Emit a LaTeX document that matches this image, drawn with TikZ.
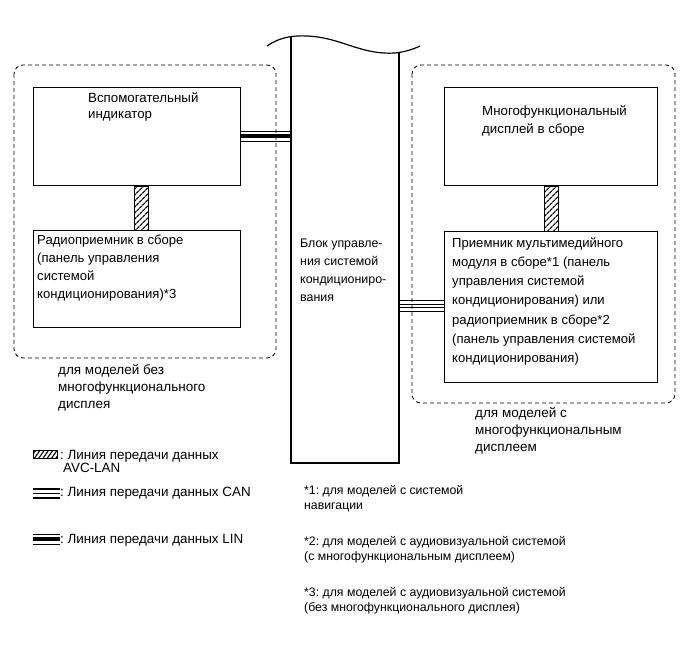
\documentclass[tikz,border=0pt]{standalone}
\usepackage{fontspec}
\setmainfont{Liberation Sans}
\usetikzlibrary{patterns.meta}
\frenchspacing
\begin{document}
\begin{tikzpicture}[x=1pt,y=-1pt,
  box/.style={draw,line width=1.4pt,anchor=north west,inner sep=0pt},
  grp/.style={draw,dash pattern=on 4pt off 3pt,line width=0.8pt,rounded corners=9pt},
  txt/.style 2 args={anchor=base west,align=left,inner sep=0pt,font=\fontsize{#1}{#2}\selectfont},
  hatch/.style={draw,line width=0.9pt,pattern={Lines[angle=45,distance=4pt,line width=1.3pt]}},
  thk/.style={line width=1.5pt},
  thn/.style={line width=0.6pt},
]
\useasboundingbox (0,0) rectangle (691,660);

% group frames
\draw[grp] (14,65) rectangle (276,358);
\draw[grp] (412,65) rectangle (675,403);

% central block
\node[inner sep=0pt,minimum width=108,minimum height=400,anchor=north west] (ecu) at (291,62) {};
\draw[line width=1.2pt] (267,46) .. controls (280,37) and (295,34) .. (318,37)
   .. controls (345,41) and (365,55) .. (395,53) .. controls (405,52) and (414,49) .. (420,46);
\draw[line width=1.4pt] (291,37.5) -- (291,463) -- (399,463) -- (399,52.5);
\node[txt={12.4}{18.3}] (ecut) at (300,302) {Блок управле-\\ния системой\\кондициониро-\\вания};

% left boxes
\node[box,minimum width=207,minimum height=98] (aux) at (33,87) {};
\node[txt={13.3}{16}] (auxt) at (88,119) {Вспомогательный\\индикатор};
\node[box,minimum width=207,minimum height=97] (rad) at (33,230) {};
\node[txt={13.1}{18}] (radt) at (37,299) {Радиоприемник в сборе\\(панель управления\\системой\\кондиционирования)*3};

% right boxes
\node[box,minimum width=213,minimum height=98] (mfd) at (444,87) {};
\node[txt={13.3}{18}] (mfdt) at (482,134) {Многофункциональный\\дисплей в сборе};
\node[box,minimum width=213,minimum height=151] (mmr) at (444,231) {};
\node[txt={13.1}{19.3}] (mmrt) at (452,362.8) {Приемник мультимедийного\\модуля в сборе*1 (панель\\управления системой\\кондиционирования) или\\радиоприемник в сборе*2\\(панель управления системой\\кондиционирования)};

% AVC-LAN connectors
\draw[hatch] ([xshift=-3pt]aux.south) rectangle ([xshift=11pt]rad.north);
\draw[hatch] ([xshift=-7pt]mfd.south) rectangle ([xshift=7pt]mmr.north);

% LIN connector (left)
\coordinate (linA) at (aux.east |- 0,136);
\coordinate (linB) at (ecu.west |- 0,136);
\draw[line width=4.5pt] (linA) -- (linB);
\draw[thn] ([yshift=-5pt]linA) -- ([yshift=-5pt]linB);
\draw[thn] ([yshift=5pt]linA) -- ([yshift=5pt]linB);

% CAN connector (right)
\coordinate (canA) at (ecu.east |- 0,306);
\coordinate (canB) at (mmr.west |- 0,306);
\draw[thk] ([yshift=-5.5pt]canA) -- ([yshift=-5.5pt]canB);
\draw[thk] ([yshift=5.5pt]canA) -- ([yshift=5.5pt]canB);
\draw[thn] ([yshift=-1.8pt]canA) -- ([yshift=-1.8pt]canB);
\draw[thn] ([yshift=1.8pt]canA) -- ([yshift=1.8pt]canB);

% group labels
\node[txt={13.5}{17}] (lgl) at (58,408) {для моделей без\\многофункционального\\дисплея};
\node[txt={13.5}{17}] (lgr) at (475,451) {для моделей с\\многофункциональным\\дисплеем};

% legend
\draw[line width=0.6pt,pattern={Lines[angle=55,distance=3.5pt,line width=1.1pt]}] (33,450) rectangle (57,458);
\node[txt={13.4}{13}] (l1) at (60,472) {: Линия передачи данных\\\hspace*{3pt}AVC-LAN};
\draw[thk] (33,489) -- (60,489);
\draw[thk] (33,498) -- (60,498);
\draw[thk] (33,493.5) -- (60,493.5);
\node[txt={13.4}{13}] (l2) at (60,496) {: Линия передачи данных CAN};
\draw[thn] (33,534) -- (60,534);
\draw[line width=4pt] (33,539) -- (60,539);
\draw[thn] (33,544) -- (60,544);
\node[txt={13.4}{13}] (l3) at (60,543) {: Линия передачи данных LIN};

% footnotes
\node[txt={12.3}{15}] (f1) at (304,509) {*1: для моделей с системой\\навигации};
\node[txt={12.3}{15}] (f2) at (304,560) {*2: для моделей с аудиовизуальной системой\\(с многофункциональным дисплеем)};
\node[txt={12.3}{15}] (f3) at (304,611) {*3: для моделей с аудиовизуальной системой\\(без многофункционального дисплея)};
\end{tikzpicture}
\end{document}
